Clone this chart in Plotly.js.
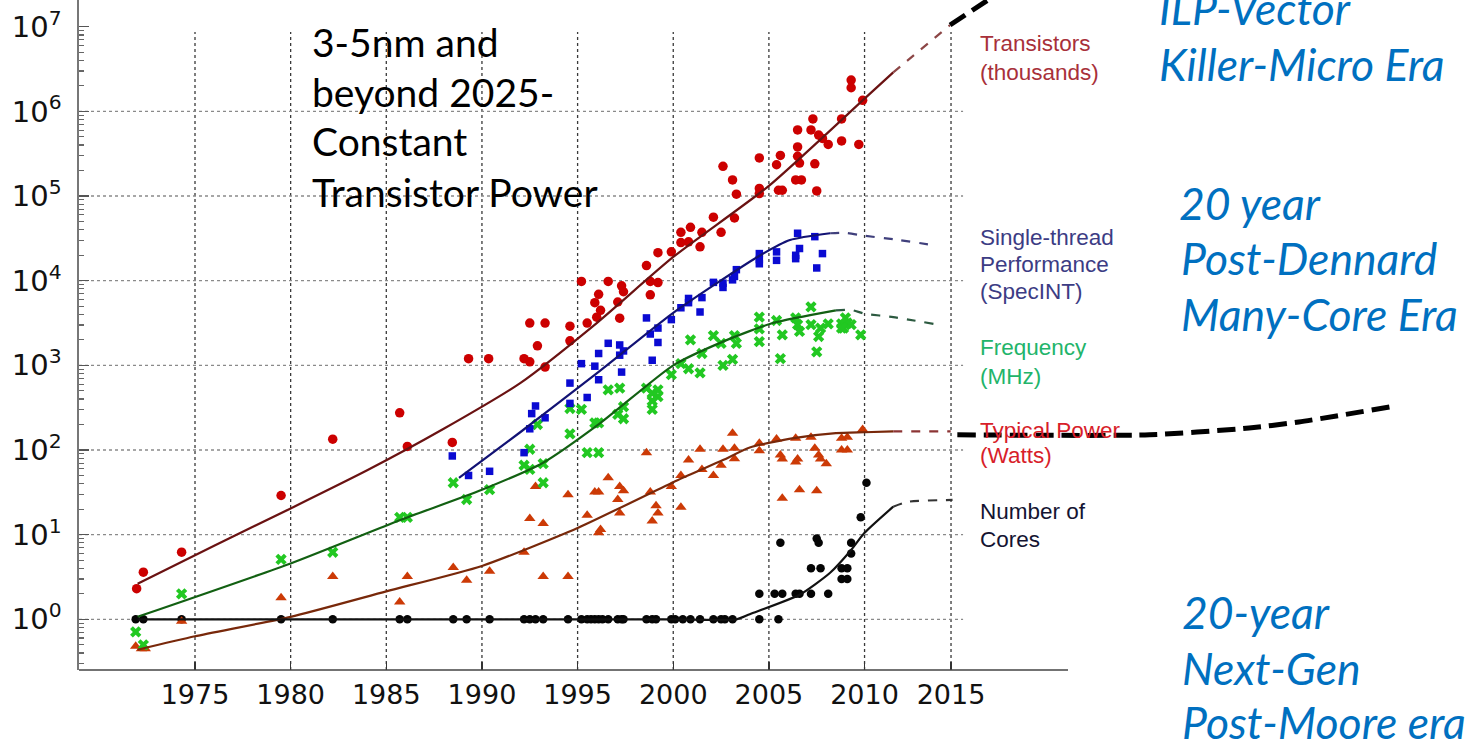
<!DOCTYPE html>
<html><head><meta charset="utf-8">
<script src="https://cdn.plot.ly/plotly-3.0.1.min.js"></script>
<style>html,body{margin:0;padding:0;background:#fff;overflow:hidden}#chart{width:1466px;height:742px}</style>
</head><body><div id="chart"></div>
<script>
// ---------------- DATA ----------------
const transYears = [1971.95,1972.3,1974.3,1979.5,1982.2,1985.7,1986.1,1988.45,1989.3,1990.35,1992.2,1992.5,1992.5,1993.3,1992.9,1993.3,1994.6,1994.6,1995.2,1995.5,1995.9,1996.1,1996.2,1996.0,1996.6,1997.1,1997.3,1997.4,1997.2,1998.6,1998.8,1998.8,1999.2,1999.2,1999.9,2000.4,2000.4,2000.8,2000.9,2001.4,2001.5,2002.1,2002.5,2002.6,2003.1,2003.3,2003.2,2004.5,2004.5,2004.5,2005.6,2005.4,2005.5,2005.7,2006.5,2006.5,2006.5,2006.6,2006.4,2006.7,2007.3,2007.2,2007.4,2007.5,2007.6,2007.8,2008.1,2008.8,2008.8,2009.3,2009.3,2009.9,2009.7];
const transValues = [2.3,3.6,6.2,29,134,275,110,123,1200,1200,1200,1100,3160,3160,1700,955,2900,1950,9800,3160,5500,6900,4470,3700,9800,5600,8700,7400,3600,15100,9800,6800,9500,21400,21900,28200,37200,28800,42700,25100,37200,56200,37200,224000,155000,105000,55000,282000,123000,107000,302000,234000,117000,117000,603000,380000,295000,245000,155000,155000,813000,603000,240000,115000,525000,479000,407000,447000,813000,2340000,1900000,1350000,407000];

const stYears = [1988.45,1989.3,1990.4,1992.2,1992.5,1992.6,1992.8,1993.3,1994.6,1994.6,1995.2,1995.5,1995.9,1996.1,1996.1,1996.6,1997.2,1997.2,1997.4,1997.3,1998.6,1998.8,1999.2,1999.2,1998.9,1999.9,2000.4,2000.8,2000.8,2001.4,2001.5,2002.1,2002.6,2002.6,2003.1,2003.3,2003.2,2004.5,2004.5,2004.5,2005.4,2005.4,2006.5,2006.6,2006.4,2006.4,2007.4,2007.8,2007.5];
const stValues = [85,50,56,93,178,269,331,240,617,355,1047,417,977,1380,676,1820,1740,1318,1479,832,3630,2344,2754,1862,1148,3467,4786,5495,6166,4266,6310,9550,9333,8318,10230,13490,11220,20890,17780,15850,21880,17380,36310,23990,19950,18200,33110,20890,14130];

const freqYears = [1971.9,1972.3,1974.3,1979.5,1982.2,1985.7,1986.1,1988.5,1989.2,1990.4,1992.2,1992.5,1992.5,1992.9,1993.2,1993.2,1994.6,1994.6,1995.2,1995.5,1995.9,1996.1,1996.1,1996.6,1997.2,1997.1,1997.4,1997.4,1998.6,1998.9,1998.9,1999.2,1999.2,1998.9,1999.9,2000.4,2000.8,2000.9,2001.4,2001.5,2002.1,2002.5,2002.6,2003.1,2003.2,2003.3,2004.5,2004.5,2004.5,2005.4,2005.6,2005.7,2006.4,2006.5,2006.6,2007.2,2007.2,2007.6,2007.7,2007.5,2008.1,2008.8,2009.1,2008.9,2008.8,2009.0,2009.3,2009.8];
const freqValues = [0.71,0.5,2.0,5.1,6.2,16,16,41,26,34,66,59,102,200,69,41,309,155,302,93,209,93,209,513,537,263,234,324,537,468,302,513,427,380,776,1047,912,1995,813,1380,2239,1820,1000,1175,2239,1820,3715,2692,1905,3388,1202,2291,3631,3020,2512,4898,3020,2188,2754,1445,3090,3090,3162,2754,2754,3631,3020,2291];

const powerYears = [1971.9,1972.2,1972.4,1974.3,1979.5,1982.2,1985.7,1986.1,1988.5,1989.2,1990.4,1992.2,1992.5,1992.8,1993.2,1993.2,1994.5,1994.5,1995.5,1995.9,1996.1,1996.2,1996.1,1996.6,1997.1,1997.2,1997.4,1997.2,1998.6,1998.8,1998.9,1999.1,1999.2,1999.9,2000.4,2000.4,2000.8,2001.4,2001.5,2002.1,2002.6,2002.5,2003.1,2003.2,2003.2,2004.5,2004.5,2005.4,2005.6,2005.7,2005.7,2006.4,2006.4,2006.5,2006.6,2007.2,2007.4,2007.6,2007.7,2008.0,2007.5,2008.8,2009.1,2008.8,2009.1,2009.9];
const powerValues = [0.48,0.45,0.45,0.95,1.8,3.2,1.6,3.2,4.1,2.9,3.7,6.2,15.5,37,13.5,3.2,29.5,3.2,17,32,32,11.5,10.5,47,26,37,33,18,93,32,14.5,22,18,37,21,50,76,102,59,50,102,66,158,105,79,120,98,135,87,78,27,138,72,78,34,141,105,87,78,69,33,138,141,100,100,174];

const coresYears = [1971.9,1972.3,1974.3,1979.5,1982.2,1985.7,1986.1,1988.5,1989.2,1990.4,1992.2,1992.5,1992.8,1993.2,1994.5,1995.2,1995.5,1995.7,1995.9,1996.1,1996.3,1996.6,1997.1,1997.3,1997.4,1998.6,1998.9,1999.1,1999.9,2000.1,2000.5,2000.9,2001.4,2002.1,2002.5,2002.7,2003.1,2004.5,2005.5,2004.5,2005.3,2005.7,2006.4,2006.6,2007.2,2008.1,2007.2,2007.7,2008.8,2009.1,2008.8,2009.1,2009.3,2005.6,2007.5,2007.6,2009.3,2009.8,2010.1];
const coresValues = [1,1,1,1,1,1,1,1,1,1,1,1,1,1,1,1,1,1,1,1,1,1,1,1,1,1,1,1,1,1,1,1,1,1,1,1,1,1,1,2,2,2,2,2,2,2,4,4,4,4,3,3,6,8,9,8,8,16,41];

// trend curves (solid) and their dashed projections
const transFitYears = [1972,1976,1980,1984,1988,1992,1996,2000,2005,2010,2011.5];
const transFitValues = [2.63,7.4,20.4,57.5,178,617,3160,19055,131826,1412538,2884032];
const transProjYears = [2011.5,2014.47];
const transProjValues = [2884032,10471285];

const stFitYears = [1988.8,1992,1996.2,2000,2004.4,2006.1,2008.2];
const stFitValues = [46.8,162,871,4169,19055,30200,36300];
const stProjYears = [2008.2,2009,2010,2011.5,2013.6];
const stProjValues = [36300,36730,33900,30900,26300];

const freqFitYears = [1972,1980,1985.7,1990,1993.2,1996.2,2000,2002.6,2005.2,2008.5];
const freqFitValues = [1.07,4.57,14.8,33.9,70.8,209,1000,1905,3162,4467];
const freqProjYears = [2008.5,2009.3,2010,2011.5,2013.6];
const freqProjValues = [4467,4519,4074,3715,3090];

const powerFitYears = [1972,1975,1980,1985,1990,1995,2000,2002.6,2004,2006.3,2008.5,2010,2011.5];
const powerFitValues = [0.437,0.63,1.07,2.14,4.27,12.0,41.7,75.9,107,138,158,162,166];
const powerProjYears = [2011.5,2014.5];
const powerProjValues = [166,166];

const coresFitYears = [1972,1980,1990,2000,2003.3,2004,2006.6,2008.2,2009.3,2010,2011.5];
const coresFitValues = [1,1,1,1,1,1.15,1.95,3.55,6.6,10.5,21.4];
const coresProjYears = [2011.5,2012.3,2014.6];
const coresProjValues = [21.4,24.5,25.7];

// hand-drawn thick black projections
const transFutureYears = [2014.47,2016.45,2018];
const transFutureValues = [10471285,20653800,35481339];
const powerFutureYears = [2014.85,2024.9,2030.1,2032.7,2037.5];
const powerFutureValues = [151,151,182,214,324];

// axis ticks (the reference's 2015 gridline sits slightly left of a linear 2015)
const xTickYears = [1975,1980,1985,1990,1995,2000,2005,2010,2014.52];
const xTickLabels = ['1975','1980','1985','1990','1995','2000','2005','2010','2015'];
const yTickValues = [1,10,100,1000,10000,100000,1000000,10000000];
const yTickLabels = ['10<sup>0</sup>','10<sup>1</sup>','10<sup>2</sup>','10<sup>3</sup>','10<sup>4</sup>','10<sup>5</sup>','10<sup>6</sup>','10<sup>7</sup>'];

// texts
const seriesLabelLines = [
  ['Transistors','(thousands)'],
  ['Single-thread','Performance','(SpecINT)'],
  ['Frequency','(MHz)'],
  ['Typical Power','(Watts)'],
  ['Number of','Cores']
];
const noteLines = ['3-5nm and','beyond 2025-','Constant','Transistor Power'];
const eraLines = ['ILP-Vector','Killer-Micro Era','20 year','Post-Dennard','Many-Core Era','20-year','Next-Gen','Post-Moore era'];

// ---------------- LAYOUT / STYLE ----------------
const W = 1466, H = 742;
const L = 79, R = 1400, T = 0, B = 670;
const PXY = 19.13;                       // px per year
const xr0 = 1975 - (195 - L) / PXY;
const xr1 = 1975 + (R - 195) / PXY;
const yr0 = -(B - 619.3) / 84.66;
const yr1 = 7 + (26.7 - T) / 84.66;
const px = v => (v - L) / (R - L);
const py = v => (B - v) / (B - T);

const traces = [];
function markers(x, y, symbol, size, color) {
  traces.push({x, y, type:'scatter', mode:'markers', hoverinfo:'skip', showlegend:false,
    marker:{symbol, size, color, line:{width:0}}});
}
function curve(x, y, color, width, dash) {
  traces.push({x, y, type:'scatter', mode:'lines', hoverinfo:'skip', showlegend:false,
    line:{color, width, dash: dash || 'solid', shape:'spline', smoothing:0.6}});
}
markers(coresYears, coresValues, 'circle', 8.5, '#050505');
markers(powerYears, powerValues, 'triangle-up', 10, '#cc3a06');
markers(freqYears, freqValues, 'x', 10, '#22c822');
markers(stYears, stValues, 'square', 7.5, '#0a0ad2');
markers(transYears, transValues, 'circle', 9.5, '#cc0000');

curve(transFitYears, transFitValues, '#6a1212', 2.2);
curve(transProjYears, transProjValues, '#8c4646', 2.2, '9px,9px');
curve(stFitYears, stFitValues, '#121274', 2.2);
curve(stProjYears, stProjValues, '#40407c', 2.2, '9px,9px');
curve(freqFitYears, freqFitValues, '#126012', 2.2);
curve(freqProjYears, freqProjValues, '#2c5a40', 2.2, '9px,9px');
curve(powerFitYears, powerFitValues, '#78280a', 2.2);
curve(powerProjYears, powerProjValues, '#8c3434', 2.2, '9px,9px');
curve(coresFitYears, coresFitValues, '#111111', 2.2);
curve(coresProjYears, coresProjValues, '#333333', 2.2, '9px,9px');
curve(transFutureYears, transFutureValues, '#000000', 5, '18px,8px');
curve(powerFutureYears, powerFutureValues, '#000000', 5, '18px,8px');

const shapes = [];
const gridTopPaper = py(32);
xTickYears.forEach(v => shapes.push({type:'line', layer:'below', xref:'x', yref:'paper',
  x0:v, x1:v, y0:0, y1:gridTopPaper, line:{color:'#3a3a3a', width:1.3, dash:'dot'}}));
yTickValues.slice(0, 7).forEach(v => shapes.push({type:'line', layer:'below', xref:'x', yref:'y',
  x0:xr0, x1:2015.15, y0:v, y1:v, line:{color:'#8a8a8a', width:1.3, dash:'dot'}}));
// bottom axis line (ends at the reference's frame edge)
shapes.push({type:'line', xref:'paper', yref:'paper', x0:0, x1:px(1068), y0:0, y1:0,
  line:{color:'#444', width:1.6}});

const annotations = [];
function textAt(text, x, y, font) {
  annotations.push({text, xref:'paper', yref:'paper', x:px(x), y:py(y), xanchor:'left', yanchor:'middle',
    showarrow:false, font, borderpad:0});
}
const seriesColors = ['#a8303a','#3c3c84','#22b46a','#d81e2a','#141432'];
const seriesYs = [[43,72],[237,264,292],[347,376],[431,456],[511,539]];
const labelFontFamily = 'Liberation Sans, Arial, sans-serif';
seriesLabelLines.forEach((lines, i) => lines.forEach((t, j) =>
  textAt(t, 979, seriesYs[i][j], {family:labelFontFamily, size:22.5, color:seriesColors[i]})));
const noteYs = [42, 92, 141, 192];
noteLines.forEach((t, i) => textAt(t, 311, noteYs[i], {family:'Lato, Open Sans, sans-serif', size:39, color:'#000'}));
const eraPos = [[1158,7],[1158,64],[1178,202],[1180,257],[1180,314],[1181,611],[1181,667],[1181,722]];
eraLines.forEach((t, i) => textAt('<i>' + t + '</i>', eraPos[i][0], eraPos[i][1],
  {family:'Lato, Open Sans, sans-serif', size:44.5, color:'#0070c0'}));

const minorVals = [];
for (let k = -1; k <= 6; k++) for (let d = 2; d <= 9; d++) {
  const v = d * Math.pow(10, k);
  if (Math.log10(v) > yr0) minorVals.push(v);
}

const layout = {
  width:W, height:H, margin:{l:L, r:W - R, t:T, b:H - B, pad:0},
  paper_bgcolor:'#fff', plot_bgcolor:'rgba(0,0,0,0)', showlegend:false,
  font:{family:'DejaVu Sans, sans-serif', color:'#000'},
  xaxis:{type:'linear', range:[xr0, xr1], tickmode:'array', tickvals:xTickYears, ticktext:xTickLabels,
    ticks:'inside', ticklen:8, tickwidth:1.4, tickcolor:'#333', showgrid:false, zeroline:false, showline:false,
    tickfont:{family:'DejaVu Sans, sans-serif', size:27, color:'#111'}, ticklabelstandoff:6, fixedrange:true},
  yaxis:{type:'log', range:[yr0, yr1], tickmode:'array', tickvals:yTickValues, ticktext:yTickLabels,
    ticks:'inside', ticklen:10, tickwidth:1.4, tickcolor:'#555', showgrid:false, zeroline:false,
    showline:true, linecolor:'#777', linewidth:1.6,
    tickfont:{family:'DejaVu Sans, sans-serif', size:29, color:'#111'}, ticklabelstandoff:10,
    minor:{tickmode:'array', tickvals:minorVals, ticks:'inside', ticklen:5, tickwidth:1.2, tickcolor:'#666', showgrid:false},
    fixedrange:true},
  shapes, annotations
};
Plotly.newPlot('chart', traces, layout, {displayModeBar:false, staticPlot:true});
</script></body></html>
